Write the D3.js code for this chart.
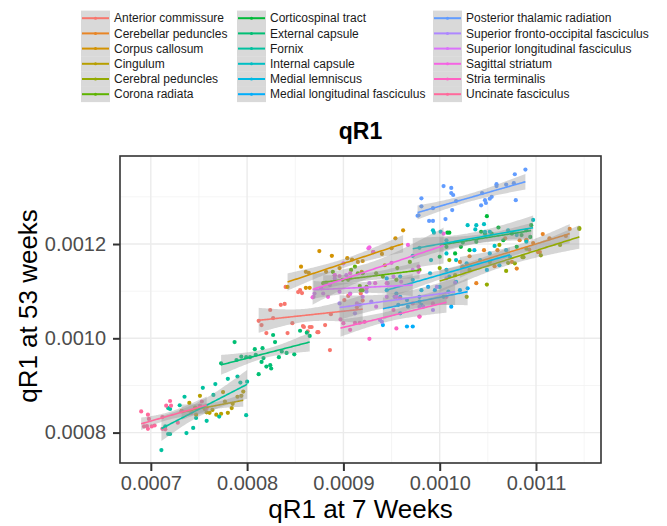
<!DOCTYPE html>
<html>
<head>
<meta charset="utf-8">
<script src="https://cdn.jsdelivr.net/npm/d3@7"></script>
<style>
  body { margin: 0; background: #fff; }
  text { font-family: "Liberation Sans", Arial, sans-serif; }
</style>
</head>
<body>
<div id="chart"></div>
<script>
// tract names, in legend order
var tracts = ["Anterior commissure", "Cerebellar peduncles", "Corpus callosum", "Cingulum",
  "Cerebral peduncles", "Corona radiata", "Corticospinal tract", "External capsule", "Fornix",
  "Internal capsule", "Medial lemniscus", "Medial longitudinal fasciculus",
  "Posterior thalamic radiation", "Superior fronto-occipital fasciculus",
  "Superior longitudinal fasciculus", "Sagittal striatum", "Stria terminalis", "Uncinate fasciculus"];

// qR1 values, in units of 1e-4
var UNIT = 1e-4;
var week7 = [
  [8.20,8.42,8.59,8.65,8.73,8.81,8.86,8.35,8.39,8.24,8.27,8.40,8.47,8.53,8.57,8.58,8.63,8.67,8.74,8.87,8.55,9.14,9.20,9.01,8.12,8.15,9.05,9.18],
  [10.38,10.80,10.83,10.90,10.97,11.04,11.14,11.35,10.46,10.31,10.60,11.07,10.93,11.02,10.90,10.57,10.21,10.68,11.31,10.75],
  [8.56,8.61,8.64,8.75,8.88,9.04,9.09,9.31,9.54,9.62,8.42,8.61,8.65,8.82,8.96,9.15,9.40,9.20,9.19,9.43,9.50],
  [7.51,7.40,7.46,7.58,7.61,7.68,7.73,7.80,7.84,7.75,7.77,7.85,7.90,7.94,7.96,7.32,7.56,7.47,7.64],
  [10.69,10.87,11.05,11.45,10.49,10.28,10.71,11.45,10.86,10.78,10.00,10.16,10.31,10.52,11.25,10.62,10.10,10.90],
  [8.79,8.82,8.99,9.15,9.17,9.20,9.34,9.41,9.56,9.55,9.18,9.05,9.08,9.24,8.89,9.12,9.20,9.69,9.79],
  [10.49,10.10,10.43,10.47,10.54,10.66,10.38,10.24,10.22,10.07,10.16,10.31,10.75,10.85,10.80,10.94,10.00,10.08,10.61,10.90,10.95],
  [7.73,7.87,7.89,7.94,7.99,8.03,8.08,8.09,8.16,8.15,8.17,8.20,8.24,8.25,8.12,8.27,8.29,8.36,8.33,8.41,8.49,8.55,8.62,8.65],
  [7.11,7.18,7.20,7.37,7.44,7.47,7.58,7.71,7.99,7.18,7.20,7.30,7.35,7.54,7.67,7.65,7.80,7.90,7.93,8.00,7.15],
  [9.93,9.94,10.01,10.07,10.29,10.37,10.38,10.46,10.47,10.52,10.97,10.80,10.71,9.79,9.91,10.07,10.17,10.24,10.57,10.90,9.72],
  [9.45,9.59,9.72,9.90,10.07,10.28,10.36,10.42,10.52,10.73,10.69,10.62,10.00,10.17,9.81,10.10,10.49],
  [9.59,9.67,9.79,9.88,9.95,10.04,10.09,10.21,10.29,10.12,9.59,9.41,9.66,9.72,9.81,9.57,9.45,9.55,9.66,9.79],
  [9.81,9.81,9.77,9.78,9.93,9.89,9.93,10.04,10.12,10.12,10.14,10.17,10.13,10.06,10.44,10.47,10.43,10.48,10.54,10.59,10.59,10.69,10.77,10.79,10.78,10.89,10.52],
  [8.96,9.12,9.17,9.29,9.38,9.40,9.79,9.93,9.24,9.07,10.07,9.83,9.97,9.53,9.46,10.16],
  [8.69,8.91,9.03,9.27,9.20,8.96,9.55,8.79,8.70,8.86,8.91,8.77,9.07,9.14,9.34,9.45,9.52,9.72,9.60],
  [8.68,8.84,8.96,9.00,9.07,9.27,9.33,9.45,9.50,9.07,9.24,9.26,9.31,9.78,9.78,9.67,10.04,8.91],
  [9.12,9.17,9.22,9.27,9.55,9.79,9.07,9.00,9.93,9.59,9.52,10.07,9.72,9.79,8.97],
  [6.90,6.97,6.98,6.96,7.01,7.04,6.97,7.12,7.15,7.16,7.20,7.21,7.28,7.32,7.42,7.51,7.53,7.58,6.93,7.12]
];
var week53 = [
  [10.11,10.11,10.24,10.24,10.13,10.28,9.75,10.71,10.73,10.60,10.43,11.09,10.32,10.98,10.96,10.26,10.15,10.24,10.13,10.51,11.02,10.66,10.80,10.81,10.37,10.28,10.90,10.95],
  [11.17,11.48,12.08,12.08,12.02,11.83,12.12,12.32,11.87,11.74,11.87,12.21,11.88,11.83,12.09,11.53,11.62,12.12,12.17,11.62],
  [11.52,11.41,11.39,11.85,11.75,11.70,11.67,11.83,12.12,12.29,11.09,11.07,11.07,11.41,11.49,11.62,11.79,11.64,11.41,11.55,11.91],
  [8.78,8.63,8.53,8.43,8.42,8.38,8.40,8.42,8.52,8.86,8.66,8.61,8.76,8.78,8.87,8.46,8.50,8.38,8.48],
  [11.43,11.72,11.76,12.32,11.14,10.88,11.60,12.34,11.72,11.59,11.49,11.34,11.45,11.62,11.98,11.98,11.66,11.90],
  [11.17,11.18,11.24,11.38,11.11,11.38,11.38,11.31,11.49,11.24,11.02,11.24,11.45,11.09,11.41,11.52,11.02,11.62,11.45],
  [12.59,12.24,12.26,12.22,12.22,12.08,12.05,12.03,11.94,11.94,11.80,11.87,12.22,12.19,11.94,12.15,11.73,12.24,12.35,12.29,12.40],
  [9.47,9.92,9.54,9.61,9.60,9.60,9.77,9.65,9.79,9.50,9.58,9.40,9.43,9.36,9.24,10.07,9.92,9.72,9.60,9.69,9.66,10.16,10.12,10.05],
  [7.63,7.97,7.97,7.99,8.10,8.31,8.25,8.34,8.37,8.52,8.50,8.58,8.76,8.95,9.03,8.80,9.14,9.19,9.06,9.08,8.13],
  [12.29,12.24,12.26,12.08,12.40,12.31,12.40,12.42,12.26,12.26,12.51,12.19,12.29,11.92,11.66,11.80,11.66,11.52,11.96,12.05,11.75],
  [11.02,11.31,11.24,11.38,11.45,11.59,11.87,11.66,11.80,11.73,11.87,11.55,11.09,11.20,11.02,11.31,11.45],
  [10.88,10.67,10.78,11.09,11.02,10.88,10.99,11.02,11.06,10.67,10.53,10.28,10.25,10.25,10.71,10.71,11.27,10.95,10.81,10.88],
  [12.97,12.80,12.60,12.61,12.76,12.49,12.49,13.23,13.19,13.08,13.04,12.91,12.72,12.53,13.08,12.93,12.82,12.87,13.00,13.27,13.23,13.26,13.29,12.93,13.48,13.58,12.96],
  [10.74,10.53,10.71,10.78,10.39,10.35,10.67,10.60,10.99,10.95,11.27,10.67,11.09,10.88,11.17,11.18],
  [10.88,11.27,11.34,11.17,10.88,10.99,10.88,10.95,10.95,11.13,11.34,11.06,11.27,10.74,10.67,10.88,11.31,11.45,11.20],
  [10.87,10.88,11.32,11.59,11.38,11.93,11.17,11.17,11.60,10.94,11.06,11.91,11.83,11.52,11.41,11.98,12.22,11.34],
  [10.33,10.33,10.35,9.99,10.21,10.46,10.18,10.32,10.74,10.85,10.60,10.88,10.74,10.46,10.40],
  [8.45,8.38,8.29,8.14,8.13,8.15,8.08,8.33,8.07,8.57,8.67,8.57,8.21,8.45,8.42,8.57,8.66,8.52,8.13,8.08]
];

var xTicks = [0.0007, 0.0008, 0.0009, 0.0010, 0.0011];
var yTicks = [0.0008, 0.0010, 0.0012];

var width = 667, height = 526;
var panel = {left: 120, right: 601, top: 156, bottom: 463};

// ggplot-like hue palette (polar Luv, l = 65, c = 100)
function hueColor(h) {
  var L = 65, C = 100, hr = h * Math.PI / 180;
  var u = C * Math.cos(hr), v = C * Math.sin(hr);
  var Xn = 95.047, Yn = 100, Zn = 108.883;
  var den = Xn + 15 * Yn + 3 * Zn, un = 4 * Xn / den, vn = 9 * Yn / den;
  var Y = Yn * Math.pow((L + 16) / 116, 3);
  var up = u / (13 * L) + un, vp = v / (13 * L) + vn;
  var X = Y * 9 * up / (4 * vp), Z = Y * (12 - 3 * up - 20 * vp) / (4 * vp);
  X /= 100; Y /= 100; Z /= 100;
  var lin = [3.2406 * X - 1.5372 * Y - 0.4986 * Z,
             -0.9689 * X + 1.8758 * Y + 0.0415 * Z,
             0.0557 * X - 0.2040 * Y + 1.0570 * Z];
  var c = lin.map(function(t) {
    t = Math.max(0, Math.min(1, t));
    t = t <= 0.0031308 ? 12.92 * t : 1.055 * Math.pow(t, 1 / 2.4) - 0.055;
    return Math.round(t * 255);
  });
  return d3.rgb(c[0], c[1], c[2]).formatHex();
}
var colors = tracts.map(function(d, i) { return hueColor(15 + 360 / tracts.length * i); });

var x = d3.scaleLinear().domain([0.000668, 0.0011675]).range([panel.left, panel.right]);
var y = d3.scaleLinear().domain([0.0007355, 0.0013867]).range([panel.bottom, panel.top]);

var svg = d3.select("#chart").append("svg")
  .attr("width", width).attr("height", height);

svg.append("defs").append("clipPath").attr("id", "clip")
  .append("rect")
  .attr("x", panel.left).attr("y", panel.top)
  .attr("width", panel.right - panel.left).attr("height", panel.bottom - panel.top);

// grid lines
var xMinor = d3.range(0.00065, 0.0012, 0.0001);
var yMinor = d3.range(0.0007, 0.0014, 0.0002);
var grid = svg.append("g").attr("clip-path", "url(#clip)");
grid.selectAll(".xminor").data(xMinor).enter().append("line")
  .attr("x1", function(d) { return x(d); }).attr("x2", function(d) { return x(d); })
  .attr("y1", panel.top).attr("y2", panel.bottom)
  .attr("stroke", "#f2f2f2").attr("stroke-width", 0.8);
grid.selectAll(".yminor").data(yMinor).enter().append("line")
  .attr("y1", function(d) { return y(d); }).attr("y2", function(d) { return y(d); })
  .attr("x1", panel.left).attr("x2", panel.right)
  .attr("stroke", "#f2f2f2").attr("stroke-width", 0.8);
grid.selectAll(".xmajor").data(xTicks).enter().append("line")
  .attr("x1", function(d) { return x(d); }).attr("x2", function(d) { return x(d); })
  .attr("y1", panel.top).attr("y2", panel.bottom)
  .attr("stroke", "#ebebeb").attr("stroke-width", 1.4);
grid.selectAll(".ymajor").data(yTicks).enter().append("line")
  .attr("y1", function(d) { return y(d); }).attr("y2", function(d) { return y(d); })
  .attr("x1", panel.left).attr("x2", panel.right)
  .attr("stroke", "#ebebeb").attr("stroke-width", 1.4);

// linear fit with 95% band, like geom_smooth(method = "lm")
function fitLine(xs, ys) {
  var n = xs.length, mx = d3.mean(xs), my = d3.mean(ys);
  var sxx = d3.sum(xs, function(v) { return (v - mx) * (v - mx); });
  var sxy = d3.sum(xs, function(v, i) { return (v - mx) * (ys[i] - my); });
  var b = sxy / sxx, a = my - b * mx;
  var sse = d3.sum(xs, function(v, i) { var r = ys[i] - (a + b * v); return r * r; });
  var s = Math.sqrt(sse / (n - 2));
  var tq = 1.96 + 2.4 / (n - 2);
  var ext = d3.extent(xs);
  return d3.range(0, 81).map(function(k) {
    var xv = ext[0] + (ext[1] - ext[0]) * k / 80;
    var fit = a + b * xv;
    var se = s * Math.sqrt(1 / n + (xv - mx) * (xv - mx) / sxx);
    return {x: xv, y: fit, lo: fit - tq * se, hi: fit + tq * se};
  });
}

var groups = tracts.map(function(name, i) {
  var xs = week7[i].map(function(v) { return v * UNIT; });
  var ys = week53[i].map(function(v) { return v * UNIT; });
  return {name: name, color: colors[i], xs: xs, ys: ys, fit: fitLine(xs, ys)};
});

var plot = svg.append("g").attr("clip-path", "url(#clip)");

// points
groups.forEach(function(g) {
  plot.append("g").selectAll("circle")
    .data(g.xs)
    .enter()
    .append("circle")
    .attr("cx", function(d) { return x(d); })
    .attr("cy", function(d, i) { return y(g.ys[i]); })
    .attr("r", 2.1)
    .attr("fill", g.color);
});

var area = d3.area()
  .x(function(d) { return x(d.x); })
  .y0(function(d) { return y(d.lo); })
  .y1(function(d) { return y(d.hi); });
var line = d3.line()
  .x(function(d) { return x(d.x); })
  .y(function(d) { return y(d.y); });

groups.forEach(function(g) {
  plot.append("path").datum(g.fit)
    .attr("d", area)
    .attr("fill", "#999999").attr("fill-opacity", 0.4);
  plot.append("path").datum(g.fit)
    .attr("d", line)
    .attr("fill", "none")
    .attr("stroke", g.color).attr("stroke-width", 1.6);
});

// panel border
svg.append("rect")
  .attr("x", panel.left).attr("y", panel.top)
  .attr("width", panel.right - panel.left).attr("height", panel.bottom - panel.top)
  .attr("fill", "none").attr("stroke", "#333333").attr("stroke-width", 1.6);

// axes
var xAxis = svg.append("g")
  .attr("transform", "translate(0," + panel.bottom + ")")
  .call(d3.axisBottom(x).tickValues(xTicks).tickFormat(d3.format(".4f")).tickSize(8).tickPadding(5));
var yAxis = svg.append("g")
  .attr("transform", "translate(" + panel.left + ",0)")
  .call(d3.axisLeft(y).tickValues(yTicks).tickFormat(d3.format(".4f")).tickSize(7).tickPadding(7));
[xAxis, yAxis].forEach(function(ax) {
  ax.select(".domain").remove();
  ax.selectAll(".tick line").attr("stroke", "#333333").attr("stroke-width", 2);
  ax.selectAll(".tick text")
    .attr("fill", "#4d4d4d")
    .style("font-size", "20px")
    .style("font-family", "'Liberation Sans', Arial, sans-serif");
});

// titles
svg.append("text")
  .attr("x", (panel.left + panel.right) / 2).attr("y", 139)
  .attr("text-anchor", "middle")
  .style("font-size", "23px").style("font-weight", "bold")
  .text("qR1");
svg.append("text")
  .attr("x", (panel.left + panel.right) / 2).attr("y", 518)
  .attr("text-anchor", "middle")
  .style("font-size", "26px")
  .text("qR1 at 7 Weeks");
svg.append("text")
  .attr("transform", "translate(37," + 306 + ") rotate(-90)")
  .attr("text-anchor", "middle")
  .style("font-size", "26px")
  .text("qR1 at 53 weeks");

// legend: 3 columns of 6
var legendCols = [81, 237, 433];
var rowH = 15.2, rowTop = 10.6;
var legend = svg.append("g");
groups.forEach(function(g, i) {
  var col = Math.floor(i / 6), row = i % 6;
  var lx = legendCols[col], ly = rowTop + row * rowH;
  var item = legend.append("g").attr("transform", "translate(" + lx + "," + ly + ")");
  item.append("rect")
    .attr("width", 29).attr("height", rowH + 0.3)
    .attr("fill", "#d9d9d9");
  item.append("line")
    .attr("x1", 1).attr("x2", 28)
    .attr("y1", rowH / 2).attr("y2", rowH / 2)
    .attr("stroke", g.color).attr("stroke-width", 2);
  item.append("circle")
    .attr("cx", 14.5).attr("cy", rowH / 2).attr("r", 1.5)
    .attr("fill", g.color);
  item.append("text")
    .attr("x", 33).attr("y", rowH / 2 + 4.3)
    .style("font-size", "12px").attr("fill", "#1a1a1a")
    .text(g.name);
});
</script>
</body>
</html>
